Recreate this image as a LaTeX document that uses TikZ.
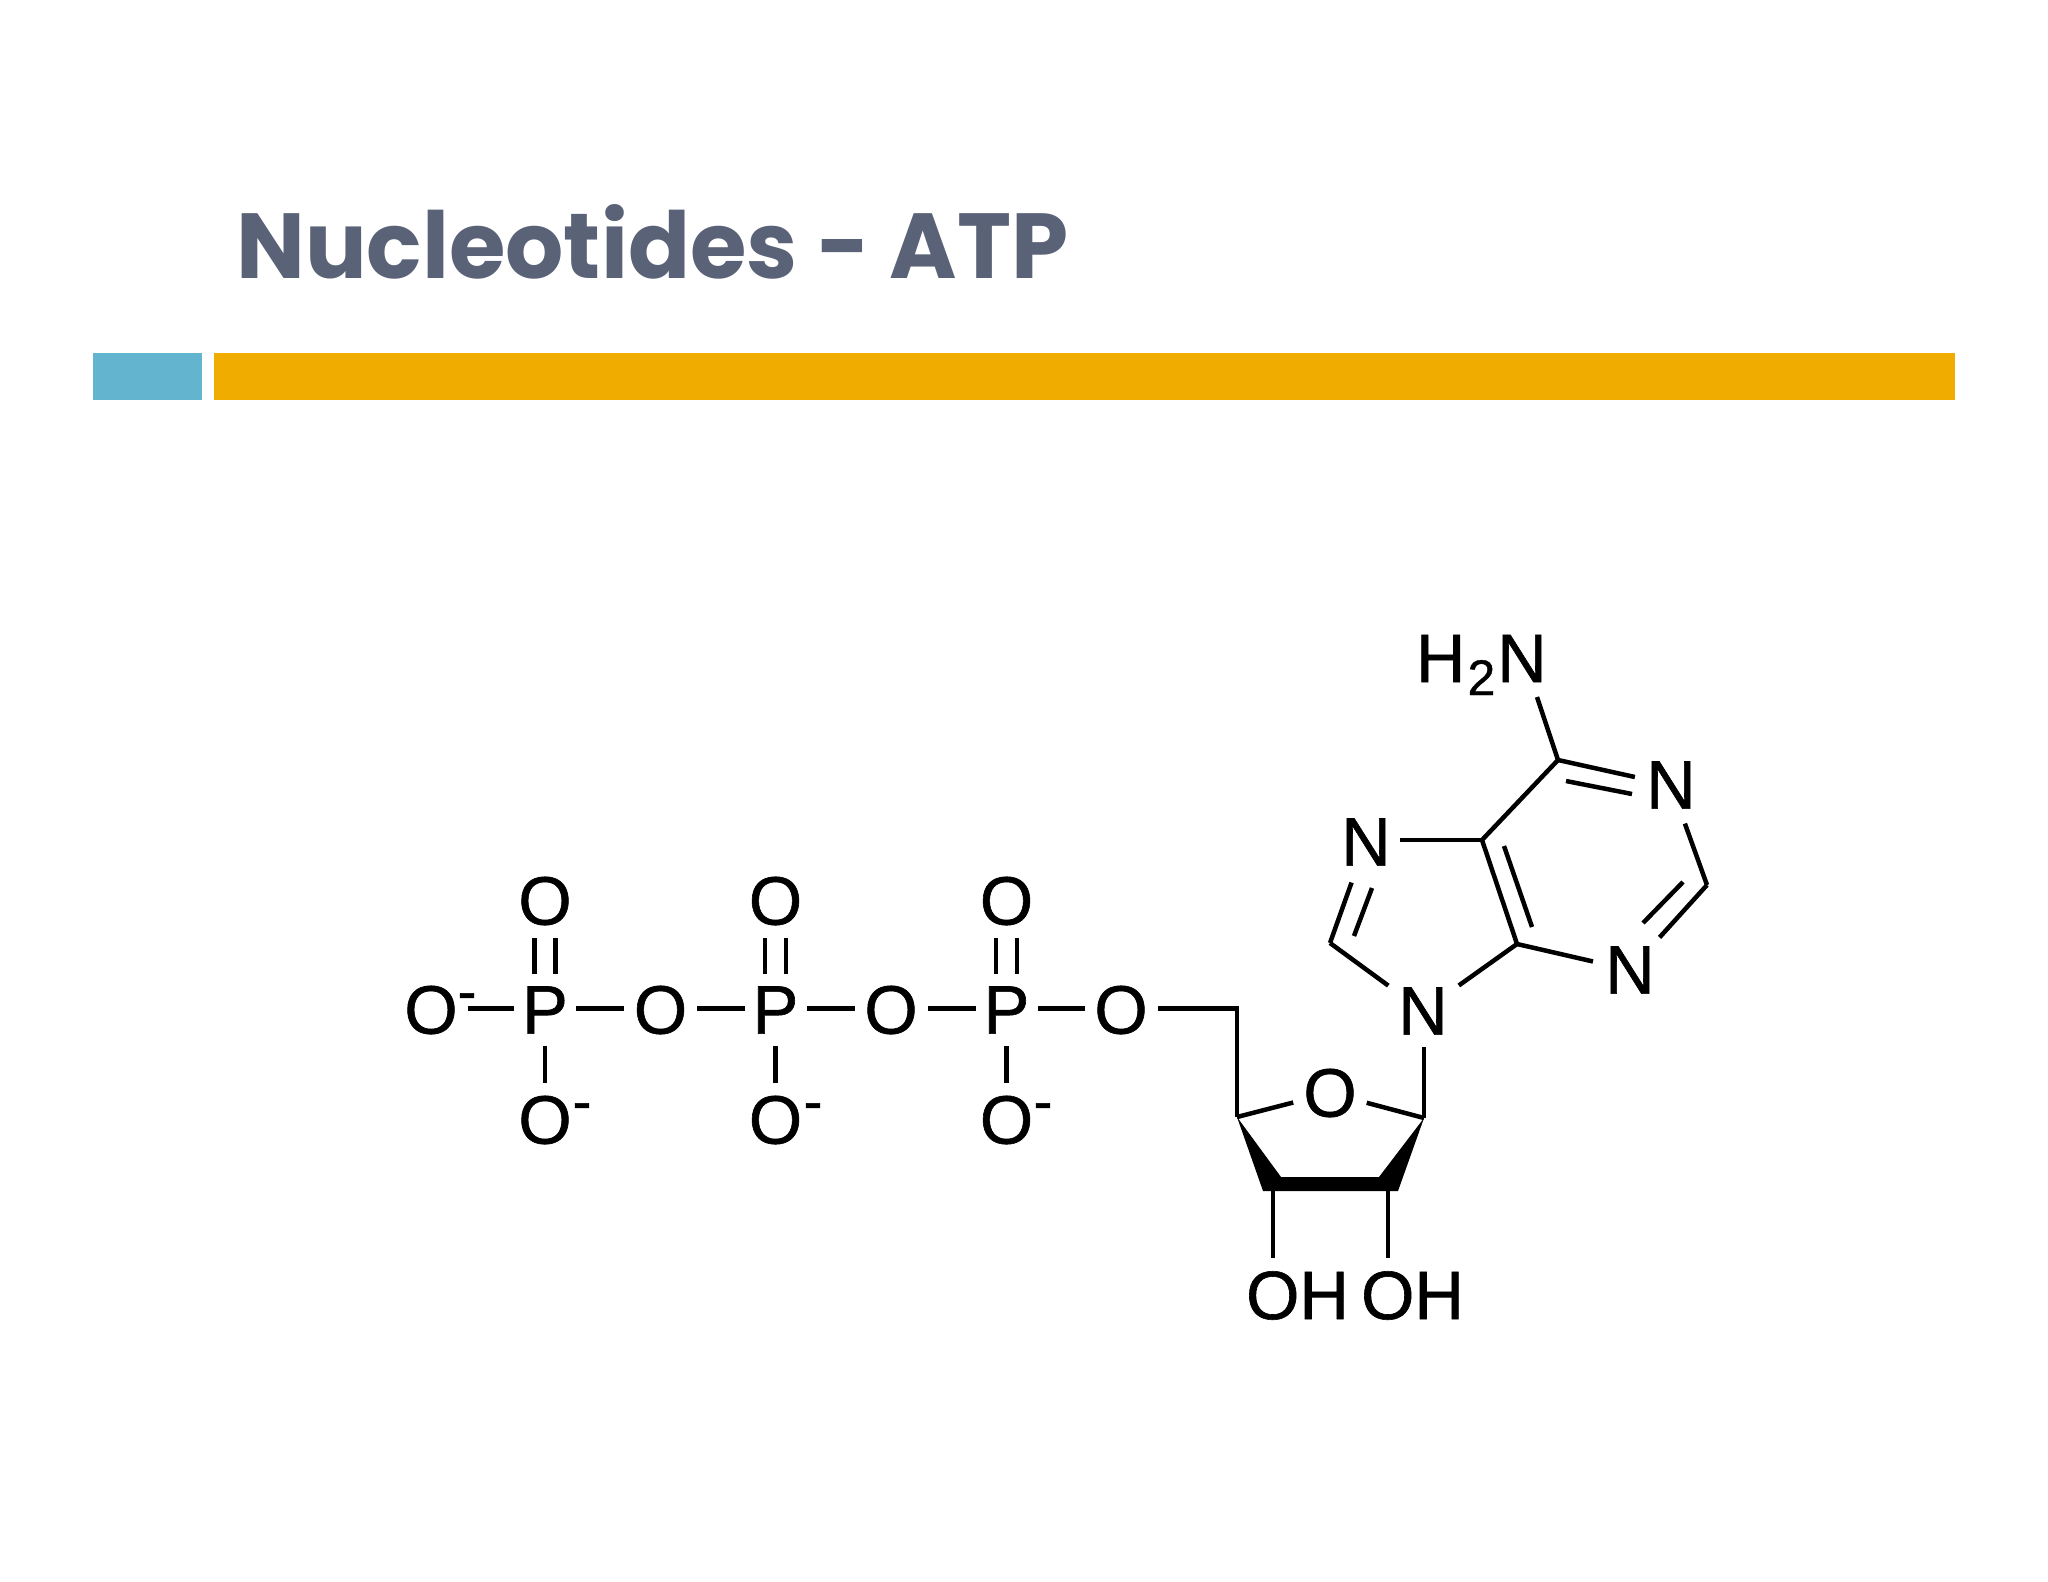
\documentclass[tikz,border=0pt]{standalone}
\usepackage{fontspec}
\usepackage{graphicx}
\setmainfont{Liberation Sans}[FakeBold=0.9]
\newfontfamily\titlefont{Poppins}
\definecolor{titleink}{HTML}{5A6277}
\definecolor{barblue}{HTML}{63B5CF}
\definecolor{bargold}{HTML}{F0AD00}
\tikzset{
  chem/.style={inner sep=0pt,outer sep=0pt,font=\fontsize{68.5}{68.5}\selectfont,text=black},
  oxy/.style={chem,rectangle,minimum width=73pt,minimum height=74pt},
  phos/.style={chem,rectangle,minimum width=62pt,minimum height=72pt},
  ringatom/.style={chem,circle,minimum size=#1},
  hydroxyl/.style={chem,rectangle,inner ysep=13pt},
  chg/.style={inner sep=0pt,outer sep=0pt,font=\fontsize{56}{56}\selectfont,text=black},
  bond/.style={draw=black,line width=4.5pt,line cap=butt,line join=miter}
}
\begin{document}
\begin{tikzpicture}[x=1pt,y=-1pt]
\useasboundingbox (0,0) rectangle (2048,1582);
% title and bars
\node[anchor=south west,inner sep=0pt,text=titleink] (title) at (236,279.5)
  {\resizebox{832pt}{74pt}{\titlefont\bfseries Nucleotides - ATP}};
\fill[barblue] (93,353) rectangle (202,400);
\fill[bargold] (213.5,353) rectangle (1955,400);
% phosphate chain
\node[oxy] (O1) at (431,1010) {O};
\node[chg] (m1) at (467,1002) {-};
\node[phos] (P1) at (545,1010) {P};
\node[oxy] (Ot1) at (545,901) {O};
\node[oxy] (Ob1) at (545,1120) {O};
\node[chg] (m2) at (582,1112) {-};
\node[oxy] (O2) at (660.5,1010) {O};
\node[phos] (P2) at (775.5,1010) {P};
\node[oxy] (Ot2) at (775.5,901) {O};
\node[oxy] (Ob2) at (775.5,1120) {O};
\node[chg] (m3) at (813,1112) {-};
\node[oxy] (O3) at (891,1010) {O};
\node[phos] (P3) at (1006.5,1010) {P};
\node[oxy] (Ot3) at (1006.5,901) {O};
\node[oxy] (Ob3) at (1006.5,1120) {O};
\node[chg] (m4) at (1043,1112) {-};
\node[oxy] (O4) at (1121,1010) {O};
\foreach \a/\b in {O1/P1,P1/O2,O2/P2,P2/O3,O3/P3,P3/O4}
  \draw[bond] ([yshift=1.7pt]\a.east) -- ([yshift=1.7pt]\b.west);
\foreach \p/\t/\u in {P1/Ot1/Ob1,P2/Ot2/Ob2,P3/Ot3/Ob3}{
  \draw[bond] ([xshift=-10.7pt]\p.north) -- ([xshift=-10.7pt]\t.south);
  \draw[bond] ([xshift=10.7pt]\p.north) -- ([xshift=10.7pt]\t.south);
  \draw[bond] (\p.south) -- (\u.north);
}
% ribose
\coordinate (C5p) at (1237,1008.3);
\coordinate (C4p) at (1237,1117);
\coordinate (C1p) at (1424,1118);
\coordinate (C3p) at (1263,1191);
\coordinate (C3in) at (1281,1177);
\coordinate (C2p) at (1398,1191);
\coordinate (C2in) at (1379,1177);
\coordinate (C3d) at (1273,1191);
\coordinate (C2d) at (1388,1191);
\node[ringatom=76pt] (Or) at (1330,1093) {O};
\node[hydroxyl] (OH1) at (1297.5,1295.5) {OH};
\node[hydroxyl] (OH2) at (1412.5,1295.5) {OH};
\draw[bond] ([yshift=1.7pt]O4.east) -- (C5p) -- (C4p);
\draw[bond] (C4p) -- (Or);
\draw[bond] (C1p) -- (Or);
\fill[black] (C4p) -- (C3p) -- (C2p) -- (C1p) -- (C2in) -- (C3in) -- cycle;
\draw[bond] (C3d) -- (C3d |- OH1.north);
\draw[bond] (C2d) -- (C2d |- OH2.north);
% adenine
\node[ringatom=72pt] (N9) at (1423,1011) {N};
\node[ringatom=66pt] (N7) at (1366,842) {N};
\node[ringatom=74pt] (N1) at (1671,785) {N};
\node[ringatom=76pt] (N3) at (1630,970) {N};
\node[chem,anchor=base west] (NH) at (1416,682)
  {H\kern2pt\raisebox{-13pt}{\fontsize{50}{50}\selectfont 2}\kern2pt N};
\coordinate (C6) at (1558,760);
\coordinate (C5) at (1482,840);
\coordinate (C4) at (1517,944);
\coordinate (C2) at (1707,885);
\coordinate (C8) at (1330,943);
\coordinate (in1a) at (1566,781);
\coordinate (in1b) at (1632,794);
\coordinate (in2a) at (1683,882);
\coordinate (in2b) at (1643,923);
\coordinate (in3a) at (1532,927);
\coordinate (in3b) at (1504,846);
\coordinate (in4a) at (1372,888);
\coordinate (in4b) at (1354,936);
\coordinate (NHend) at (1537,697);
\draw[bond] (C1p |- N9.south) -- (C1p);
\draw[bond] (NHend) -- (C6);
\draw[bond] (C6) -- (N1);
\draw[bond] (in1a) -- (in1b);
\draw[bond,shorten <=4pt] (N1) -- (C2);
\draw[bond,shorten <=6pt] (N3) -- (C2);
\draw[bond] (in2a) -- (in2b);
\draw[bond] (N3) -- (C4);
\draw[bond] (C4) -- (C5);
\draw[bond] (in3a) -- (in3b);
\draw[bond] (C5) -- (C6);
\draw[bond] (C5) -- (C5 -| N7.east);
\draw[bond,shorten <=9pt] (N7) -- (C8);
\draw[bond] (in4a) -- (in4b);
\draw[bond,shorten <=7pt] (N9) -- (C8);
\draw[bond,shorten <=8pt] (N9) -- (C4);
\end{tikzpicture}
\end{document}
